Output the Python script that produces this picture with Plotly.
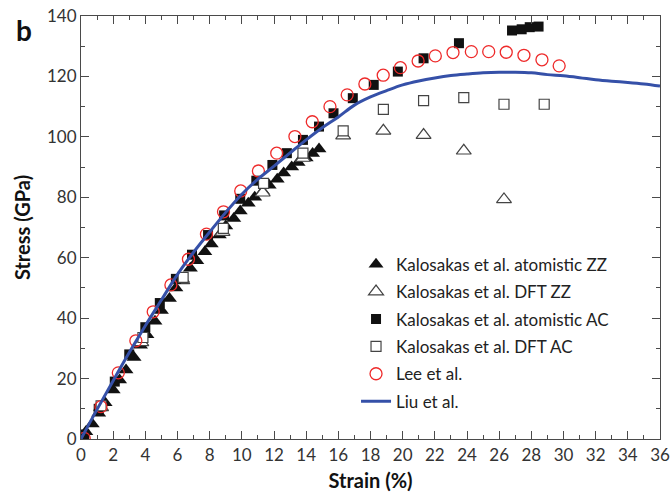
import plotly.graph_objects as go

# ---- data ----
zz_atom_x = [0.3, 0.7, 1.1, 1.5, 2.0, 2.4, 2.8, 3.3, 3.7, 4.1, 4.6, 5.0, 5.5, 5.9, 6.3, 6.8, 7.2,
             7.7, 8.1, 8.6, 9.0, 9.5, 9.9, 10.4, 10.8, 11.3, 11.7, 12.2, 12.6, 13.1, 13.5, 14.0, 14.4, 14.8]
zz_atom_y = [2.4, 5.0, 8.5, 12.0, 16.2, 19.5, 22.8, 27.0, 31.0, 34.5, 39.0, 42.5, 46.5, 50.0, 53.0, 56.5, 59.0,
             62.0, 64.5, 67.5, 70.5, 73.0, 75.5, 78.0, 80.0, 82.0, 84.0, 86.0, 88.0, 90.0, 91.5, 93.0, 94.5, 96.0]

zz_dft_x = [1.25, 3.75, 6.3, 8.8, 11.3, 13.8, 16.3, 18.8, 21.3, 23.8, 26.3]
zz_dft_y = [10.5, 32.0, 52.5, 68.5, 81.5, 93.0, 100.4, 102.0, 100.6, 95.4, 79.3]

ac_atom_x = [0.2, 1.1, 2.1, 3.0, 4.0, 4.9, 5.9, 6.9, 7.9, 8.9, 9.9, 10.9, 11.9, 12.8, 13.8, 14.8, 15.7,
             16.9, 18.2, 19.7, 21.3, 23.5, 26.8, 27.4, 27.9, 28.45]
ac_atom_y = [1.5, 10.0, 19.0, 28.0, 37.0, 45.0, 53.0, 61.0, 67.5, 74.0, 79.5, 85.5, 90.7, 94.6, 99.0, 103.4, 107.8,
             112.8, 117.2, 121.6, 126.0, 131.0, 135.2, 135.6, 136.3, 136.5]

ac_dft_x = [1.25, 3.85, 6.35, 8.85, 11.35, 13.8, 16.3, 18.8, 21.3, 23.8, 26.3, 28.8]
ac_dft_y = [11.0, 33.6, 53.5, 69.7, 84.6, 94.6, 102.0, 109.1, 112.0, 113.0, 110.8, 110.8]

lee_x = [0.2, 1.24, 2.32, 3.41, 4.49, 5.59, 6.68, 7.8, 8.86, 9.93, 11.03, 12.17, 13.3, 14.38,
         15.48, 16.55, 17.65, 18.79, 19.86, 20.96, 22.03, 23.13, 24.27, 25.35, 26.44, 27.54, 28.66, 29.73]
lee_y = [0.2, 10.7, 21.9, 32.5, 42.1, 51.0, 59.5, 67.8, 75.2, 82.1, 88.7, 94.6, 100.1, 105.0,
         110.0, 113.9, 117.5, 120.4, 122.9, 125.1, 126.8, 127.9, 128.2, 128.2, 128.0, 127.0, 125.5, 123.5]

liu_x = [0, 1, 2, 3, 4, 5, 6, 7, 8, 9, 10, 11, 12, 13, 14, 15, 16, 17, 18, 19, 20, 21, 22, 23, 24, 25,
         26, 27, 28, 29, 30, 31, 32, 33, 34, 35, 36]
liu_y = [0, 9.8, 19.3, 28.6, 37.5, 46.0, 54.5, 61.8, 68.5, 75.0, 81.0, 86.0, 90.3, 94.7, 99.0, 103.0,
         106.6, 110.5, 113.2, 115.3, 117.2, 118.5, 119.5, 120.3, 120.8, 121.2, 121.4, 121.4, 121.2, 120.6,
         120.2, 119.6, 118.9, 118.4, 118.0, 117.5, 116.8]

x_ticks = list(range(0, 37, 2))
y_ticks = list(range(0, 141, 20))

FONT = "Lato"
AX = "#4a4a4a"

fig = go.Figure()
fig.add_trace(go.Scatter(x=zz_atom_x, y=zz_atom_y, mode="markers", name="Kalosakas et al. atomistic ZZ",
                         legendgroup="a",
                         marker=dict(symbol="triangle-up", size=13, color="#111111")))
fig.add_trace(go.Scatter(x=zz_dft_x, y=zz_dft_y, mode="markers", name="Kalosakas et al. DFT ZZ",
                         legendgroup="b",
                         marker=dict(symbol="triangle-up", size=13, color="white",
                                     line=dict(color="#444444", width=1.2))))
fig.add_trace(go.Scatter(x=ac_atom_x, y=ac_atom_y, mode="markers", name="Kalosakas et al. atomistic AC",
                         legendgroup="c",
                         marker=dict(symbol="square", size=10, color="#111111")))
fig.add_trace(go.Scatter(x=ac_dft_x, y=ac_dft_y, mode="markers", name="Kalosakas et al. DFT AC",
                         legendgroup="d",
                         marker=dict(symbol="square", size=10, color="white",
                                     line=dict(color="#444444", width=1.2))))
fig.add_trace(go.Scatter(x=lee_x, y=lee_y, mode="markers", name="Lee et al.",
                         legendgroup="e",
                         marker=dict(symbol="circle", size=12, color="rgba(0,0,0,0)",
                                     line=dict(color="#ee2a2a", width=1.3))))
fig.add_trace(go.Scatter(x=liu_x, y=liu_y, mode="lines", name="Liu et al.",
                         legendgroup="f",
                         line=dict(color="#3550a8", width=3, shape="spline")))

axis_common = dict(
    showline=True, linecolor=AX, linewidth=1.2, mirror="ticks",
    ticks="inside", ticklen=8, tickwidth=1, tickcolor=AX,
    showgrid=False, zeroline=False, automargin=False, ticklabeloverflow="allow",
    tickfont=dict(family=FONT, size=17, color="#333333"),
)

fig.update_xaxes(range=[0, 36], tickvals=x_ticks, ticktext=[str(v) for v in x_ticks],
                 minor=dict(dtick=1, ticks="inside", ticklen=4, tickcolor=AX, showgrid=False),
                 title=dict(text="<b>Strain (%)</b>", font=dict(family=FONT, size=20, color="#111111"),
                            standoff=10),
                 **axis_common)
fig.update_yaxes(range=[0, 140], tickvals=y_ticks, ticktext=[str(v) for v in y_ticks],
                 minor=dict(dtick=10, ticks="inside", ticklen=4, tickcolor=AX, showgrid=False),
                 title=dict(text="<b>Stress (GPa)</b>", font=dict(family=FONT, size=20, color="#111111"),
                            standoff=10),
                 **axis_common)

fig.add_annotation(text="<b>b</b>", xref="paper", yref="paper", x=-0.116, y=0.967,
                   xanchor="left", yanchor="middle", showarrow=False,
                   font=dict(family=FONT, size=28, color="#111111"))

fig.update_layout(
    width=670, height=492,
    margin=dict(l=81, r=10, t=16, b=53),
    paper_bgcolor="white", plot_bgcolor="white",
    font=dict(family=FONT, size=16, color="#222222"),
    legend=dict(x=0.475, y=0.4549, xanchor="left", yanchor="top",
                bgcolor="rgba(0,0,0,0)", borderwidth=0,
                font=dict(family=FONT, size=17, color="#222222"),
                tracegroupgap=2.3, traceorder="grouped"),
    showlegend=True,
)

# remove the page's default 8px body margin so the figure fills the window
fig.write_html("out.html", config={"displayModeBar": False},
               post_script="document.body.style.margin='0';")
